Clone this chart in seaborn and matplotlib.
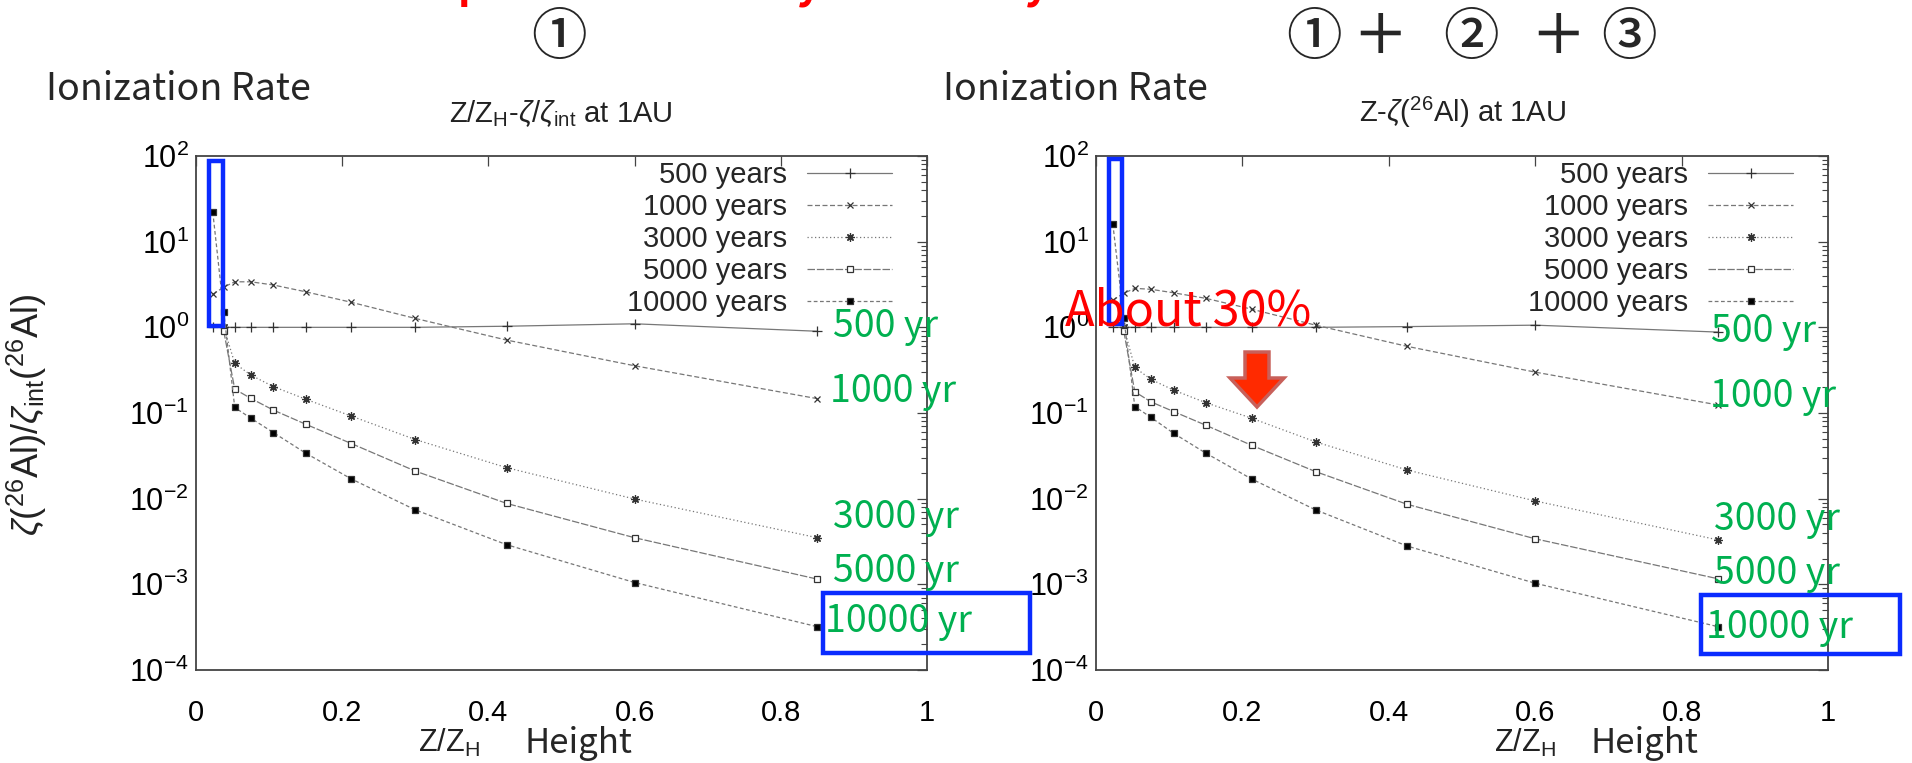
import numpy as np
import pandas as pd
import matplotlib
matplotlib.use("Agg")
import matplotlib.pyplot as plt
import seaborn as sns
from matplotlib.patches import Rectangle, FancyArrow
from matplotlib.lines import Line2D
from matplotlib.ticker import FixedLocator, LogLocator, NullFormatter, LogFormatterMathtext

# ---------------- data ----------------
z = [0.023, 0.038, 0.053, 0.075, 0.106, 0.150, 0.2125, 0.300, 0.425, 0.600, 0.850]
series = ["500 years", "1000 years", "3000 years", "5000 years", "10000 years"]
nan = np.nan

left_500 = [1.0, 1.0, 1.0, 1.0, 1.0, 1.0, 1.0, 1.0, 1.03, 1.10, 0.90]
left_1000 = [2.43, 2.95, 3.40, 3.40, 3.12, 2.60, 1.96, 1.27, 0.71, 0.356, 0.147]
left_3000 = [nan, 1.00, 0.38, 0.277, 0.203, 0.145, 0.092, 0.049, 0.023, 0.0099, 0.0035]
left_5000 = [nan, 0.90, 0.19, 0.148, 0.108, 0.074, 0.044, 0.021, 0.0088, 0.0035, 0.00115]
left_10000 = [22.0, 1.5, 0.116, 0.087, 0.059, 0.034, 0.017, 0.0074, 0.0029, 0.00105, 0.00032]

right_500 = [1.0, 1.0, 1.0, 1.0, 1.0, 1.0, 1.0, 1.0, 1.02, 1.06, 0.88]
right_1000 = [2.08, 2.50, 2.85, 2.78, 2.53, 2.18, 1.63, 1.06, 0.60, 0.30, 0.124]
right_3000 = [nan, 1.00, 0.34, 0.247, 0.185, 0.132, 0.087, 0.046, 0.0216, 0.0094, 0.0033]
right_5000 = [nan, 0.90, 0.177, 0.135, 0.104, 0.072, 0.042, 0.0207, 0.0086, 0.0034, 0.00116]
right_10000 = [16.0, 1.3, 0.119, 0.089, 0.058, 0.034, 0.017, 0.0074, 0.0028, 0.00103, 0.00032]

left_values = [left_500, left_1000, left_3000, left_5000, left_10000]
right_values = [right_500, right_1000, right_3000, right_5000, right_10000]

xtick_values = [0, 0.2, 0.4, 0.6, 0.8, 1]
xtick_labels = ["0", "0.2", "0.4", "0.6", "0.8", "1"]
green_labels = ["500 yr", "1000 yr", "3000 yr", "5000 yr", "10000 yr"]
left_title = r"Z/Z$_{\rm H}$-$\zeta$/$\zeta_{\rm int}$ at 1AU"
right_title = r"Z-$\zeta$($^{26}$Al) at 1AU"
ylabel = r"$\zeta$($^{26}$Al)/$\zeta_{\rm int}$($^{26}$Al)"

# ---------------- style ----------------
sns.set_theme(style="white")
plt.rcParams["font.family"] = ["Liberation Sans", "Noto Sans CJK JP", "DejaVu Sans"]
plt.rcParams["mathtext.fontset"] = "custom"
plt.rcParams["mathtext.rm"] = "Liberation Sans"
plt.rcParams["mathtext.it"] = "Liberation Sans:italic"
plt.rcParams["mathtext.bf"] = "Liberation Sans:bold"

W, H = 1912, 763
fig = plt.figure(figsize=(W / 100, H / 100), dpi=100)
fig.patch.set_facecolor("white")

def fx(px):
    return px / W

def fy(py):
    return 1 - py / H

styles = [
    dict(marker="+", linestyle="-", mfc="none", ms=7),
    dict(marker="x", linestyle=(0, (4, 2)), mfc="none", ms=5),
    dict(marker=(8, 2, 0), linestyle=(0, (1, 2)), mfc="none", ms=6),
    dict(marker="s", linestyle=(0, (6, 1.5)), mfc="white", ms=5),
    dict(marker="s", linestyle=(0, (3, 2)), mfc="black", ms=5),
]
line_color = "#777777"
mark_color = "#333333"

ax_l = fig.add_axes([fx(196), fy(670), fx(927) - fx(196), fy(156) - fy(670)])
ax_r = fig.add_axes([fx(1096), fy(670), fx(1828) - fx(1096), fy(156) - fy(670)])

for ax, values in ((ax_l, left_values), (ax_r, right_values)):
    for name, vals, st in zip(series, values, styles):
        df = pd.DataFrame({"z": z, "rate": vals}).dropna()
        sns.lineplot(data=df, x="z", y="rate", ax=ax, estimator=None, sort=False,
                     color=line_color, lw=0.9, linestyle=st["linestyle"],
                     marker=st["marker"], markersize=st["ms"],
                     markerfacecolor=st["mfc"], markeredgecolor=mark_color,
                     markeredgewidth=0.9, legend=False)
    ax.set_yscale("log")
    ax.set_ylim(1e-4, 1e2)
    ax.set_xlim(0, 1)
    ax.set_xlabel("")
    ax.set_ylabel("")
    ax.xaxis.set_major_locator(FixedLocator(xtick_values))
    ax.set_xticklabels(xtick_labels)
    ax.yaxis.set_major_locator(LogLocator(base=10, numticks=10))
    ax.yaxis.set_minor_locator(LogLocator(base=10, subs=np.arange(2, 10), numticks=20))
    ax.yaxis.set_major_formatter(LogFormatterMathtext())
    ax.yaxis.set_minor_formatter(NullFormatter())
    ax.tick_params(which="both", direction="in", top=True, right=True, colors="#444444",
                   labelcolor="black")
    ax.tick_params(which="major", length=7, width=0.9)
    ax.tick_params(which="minor", length=4, width=0.8)
    ax.tick_params(axis="x", which="major", labelsize=21, pad=21)
    ax.tick_params(axis="y", which="major", labelsize=22, pad=5)
    for sp in ax.spines.values():
        sp.set_color("#444444")
        sp.set_linewidth(1.3)

    handles = [Line2D([0], [0], color=line_color, lw=0.9, linestyle=st["linestyle"],
                      marker=st["marker"], markersize=st["ms"], markerfacecolor=st["mfc"],
                      markeredgecolor=mark_color, markeredgewidth=0.9) for st in styles]
    ax.legend(handles, series, loc="upper right", bbox_to_anchor=(0.952, 0.99),
              markerfirst=False, frameon=False, fontsize=21, handlelength=2.9,
              handletextpad=0.7, labelspacing=0.14, borderaxespad=0, borderpad=0)

# ---------------- titles and texts ----------------
fig.text(fx(561), fy(122), left_title, ha="center", va="baseline", fontsize=21, color="#222222")
fig.text(fx(1462), fy(122), right_title, ha="center", va="baseline", fontsize=21, color="#222222")

cjk = ["Noto Sans CJK JP", "DejaVu Sans"]
fig.text(fx(46), fy(100), "Ionization Rate", ha="left", va="baseline", fontsize=27, family=cjk)
fig.text(fx(943), fy(100), "Ionization Rate", ha="left", va="baseline", fontsize=27, family=cjk)

for px, ch in ((559, "①"), (1314, "①"), (1380, "＋"), (1471, "②"), (1558, "＋"), (1629, "③")):
    fig.text(fx(px), fy(38), ch, ha="center", va="center", fontsize=40, family=cjk,
             fontweight="medium")

# red heading cut off at the top edge (only descenders visible)
for px, ch in ((471, "p"), (808, "y"), (1036, "y")):
    fig.text(fx(px), fy(7), ch, ha="center", va="bottom", fontsize=30, color="red",
             family=cjk, fontweight="bold")

fig.text(fx(27), fy(415), ylabel, rotation=90, ha="center", va="center", fontsize=26, color="#222222")

for x0, xh in ((418, 524), (1494, 1591)):
    fig.text(fx(x0), fy(752), r"Z/Z$_{\rm H}$", ha="left", va="baseline", fontsize=22, color="#222222")
    fig.text(fx(xh), fy(753), "Height", ha="left", va="baseline", fontsize=25, family=cjk)

green = "#00B050"
left_green = [(833, 337), (830, 402), (833, 528), (833, 582), (825, 632)]
right_green = [(1711, 342), (1710, 407), (1714, 530), (1714, 584), (1706, 638)]
for pos_list in (left_green, right_green):
    for (px, py), lab in zip(pos_list, green_labels):
        fig.text(fx(px), fy(py), lab, ha="left", va="baseline", fontsize=27, color=green, family=cjk)

fig.text(fx(1065), fy(325), "About 30%", ha="left", va="baseline", fontsize=35, color="red", family=cjk)

# red arrow pointing down
arrow = FancyArrow(fx(1257), fy(352), 0, fy(407) - fy(352), width=24 / W,
                   head_width=54 / W, head_length=29 / H, length_includes_head=True,
                   transform=fig.transFigure, facecolor="#FF2A00", edgecolor="#C8605A", lw=2.5)
fig.add_artist(arrow)

# blue highlight boxes
blue = "#0A2BFF"
for (x0, y0, x1, y1) in ((208.5, 161, 223, 326), (1109, 159, 1122, 324),
                         (823, 593, 1030, 653), (1701, 595, 1900, 654)):
    r = Rectangle((fx(x0), fy(y1)), fx(x1) - fx(x0), fy(y0) - fy(y1), transform=fig.transFigure,
                  fill=False, edgecolor=blue, lw=3.2, clip_on=False)
    fig.add_artist(r)

fig.savefig("out.png", dpi=100, facecolor="white")
